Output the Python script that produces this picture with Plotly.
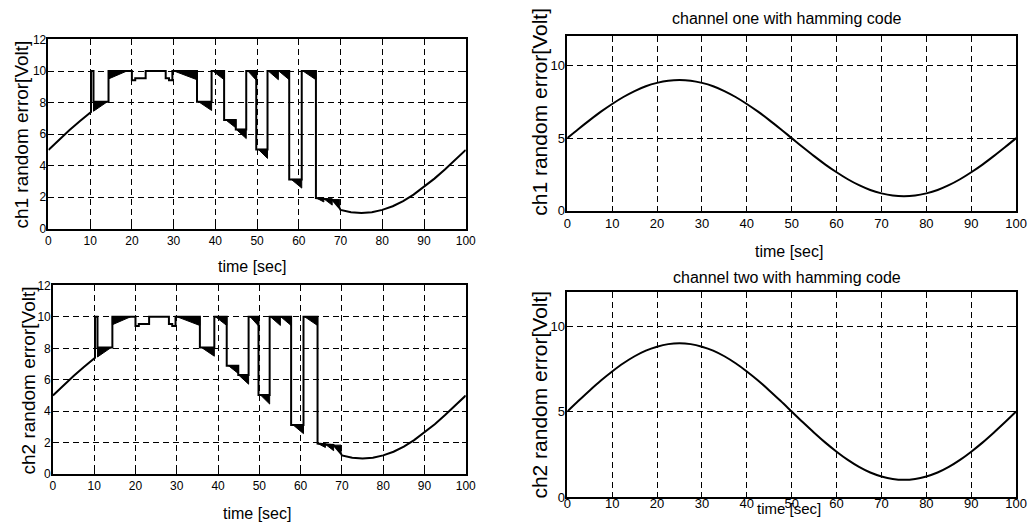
import plotly.graph_objects as go

# ---- data ----
sine_t = [0, 2.5, 5, 7.5, 10, 12.5, 15, 17.5, 20, 22.5, 25, 27.5, 30, 32.5, 35, 37.5, 40,
          42.5, 45, 47.5, 50, 52.5, 55, 57.5, 60, 62.5, 65, 67.5, 70, 72.5, 75, 77.5, 80,
          82.5, 85, 87.5, 90, 92.5, 95, 97.5, 100]
sine_v = [5.00, 5.63, 6.24, 6.82, 7.35, 7.83, 8.24, 8.57, 8.80, 8.95, 9.00, 8.95, 8.80, 8.57,
          8.24, 7.83, 7.35, 6.82, 6.24, 5.63, 5.00, 4.37, 3.76, 3.18, 2.65, 2.17, 1.76, 1.43,
          1.20, 1.05, 1.00, 1.05, 1.20, 1.43, 1.76, 2.17, 2.65, 3.18, 3.76, 4.37, 5.00]

err_t = [10.2, 10.2, 10.8, 10.8, 14.4, 14.4, 20.0, 20.0, 20.8, 20.8, 23.3, 23.3, 28.1, 28.1,
         28.9, 28.9, 29.7, 29.7, 35.6, 35.6, 39.1, 39.1, 42.1, 42.1, 44.9, 44.9, 47.4, 47.4,
         49.8, 49.8, 52.5, 52.5, 57.7, 57.7, 60.7, 60.7, 64.1, 64.1, 66.0, 68.0, 69.8]
err_v = [7.40, 10.0, 10.0, 8.05, 8.05, 10.0, 10.0, 9.42, 9.42, 9.55, 9.55, 10.0, 10.0, 9.55,
         9.55, 9.42, 9.42, 10.0, 10.0, 8.05, 8.05, 10.0, 10.0, 6.9, 6.9, 6.3, 6.3, 10.0,
         10.0, 5.03, 5.03, 10.0, 10.0, 3.13, 3.13, 10.0, 10.0, 1.95, 1.9, 1.85, 1.3]

fill_t0 = [10.8, 14.4, 30.1, 36.0, 39.4, 42.5, 45.0, 47.8, 50.3, 52.7, 55.2, 58.2, 61.0, 64.2, 66.0, 68.0]
fill_t1 = [14.1, 18.8, 35.6, 39.1, 42.1, 44.9, 47.4, 49.8, 52.5, 55.1, 57.7, 60.7, 64.1, 66.0, 68.0, 69.8]
fill_top = [8.05, 10, 10, 8.05, 10, 6.9, 6.3, 10, 5.03, 10, 10, 3.13, 10, 1.95, 1.9, 1.85]
fill_b0 = [7.45, 9.5, 10, 8.05, 10, 6.9, 6.3, 10, 5.03, 10, 10, 3.13, 10, 1.95, 1.9, 1.85]
fill_b1 = [8.05, 10, 9.45, 7.5, 9.45, 6.4, 5.72, 9.42, 4.46, 9.45, 9.45, 2.58, 9.45, 1.7, 1.5, 1.3]

x_ticks = [0, 10, 20, 30, 40, 50, 60, 70, 80, 90, 100]
y_ticks_left = [0, 2, 4, 6, 8, 10, 12]
y_ticks_right = [0, 5, 10]

# ---- build series ----
head = [(t, v) for t, v in zip(sine_t, sine_v) if t <= 10]
tail = [(t, v) for t, v in zip(sine_t, sine_v) if t >= 70]
left_t = [p[0] for p in head] + err_t + [p[0] for p in tail]
left_v = [p[1] for p in head] + err_v + [p[1] for p in tail]

poly_t, poly_v = [], []
for t0, t1, top, b0, b1 in zip(fill_t0, fill_t1, fill_top, fill_b0, fill_b1):
    poly_t += [t0, t1, t1, t0, t0, None]
    poly_v += [top, top, b1, b0, top, None]

FONT = "Liberation Sans Narrow, Arial Narrow, Liberation Sans, Arial"
W, H = 1028, 526


# layout helpers: target pixel positions -> paper fractions
def fx(px):
    return ((px - 1.5) / 0.988) / W


def fy(py):
    return 1 - ((py - 6.8) / 0.972) / H


fig = go.Figure()

# panel boxes in pixels: left, right, top, bottom
panels = [
    dict(xa="x", ya="y", box=(46, 464, 39.3, 228.7), kind="left",
         ylab="ch1 random error[Volt]", ylab_pos=(19, 134), xlab_pos=(250, 266), tstand=0),
    dict(xa="x2", ya="y2", box=(50.5, 464, 285.3, 474.3), kind="left",
         ylab="ch2 random error[Volt]", ylab_pos=(26, 380), xlab_pos=(255, 514), tstand=0),
    dict(xa="x3", ya="y3", box=(565.7, 1015.3, 36.2, 210.7), kind="right",
         ylab="ch1 random error[Volt]", ylab_pos=(538, 112), xlab_pos=(788, 251), tstand=0),
    dict(xa="x4", ya="y4", box=(565.7, 1015.3, 292, 497), kind="right",
         ylab="ch2 random error[Volt]", ylab_pos=(538, 395), xlab_pos=None, tstand=-6),
]

layout = {}
annotations = []
for p in panels:
    xa, ya = p["xa"], p["ya"]
    l, r, t, b = p["box"]
    if p["kind"] == "left":
        fig.add_trace(go.Scatter(x=poly_t, y=poly_v, xaxis=xa, yaxis=ya, mode="lines",
                                 fill="toself", fillcolor="black",
                                 line=dict(color="black", width=1), hoverinfo="skip",
                                 showlegend=False))
        fig.add_trace(go.Scatter(x=left_t, y=left_v, xaxis=xa, yaxis=ya, mode="lines",
                                 line=dict(color="black", width=2), showlegend=False))
        yt, fs, yfs = y_ticks_left, 12, 19
    else:
        fig.add_trace(go.Scatter(x=sine_t, y=sine_v, xaxis=xa, yaxis=ya, mode="lines",
                                 line=dict(color="black", width=2, shape="spline"),
                                 showlegend=False))
        yt, fs, yfs = y_ticks_right, 13, 21
    common = dict(showline=True, linecolor="black", linewidth=1.5, mirror="ticks",
                  ticks="inside", ticklen=4, tickcolor="black",
                  showgrid=True, gridcolor="black", gridwidth=1, griddash="6px,4px",
                  zeroline=False, tickfont=dict(family=FONT, size=fs, color="black"))
    layout["xaxis" + xa[1:]] = dict(domain=[fx(l), fx(r)], anchor=ya, range=[0, 100],
                                    tickvals=x_ticks, ticklabelstandoff=p["tstand"], **common)
    layout["yaxis" + ya[1:]] = dict(domain=[fy(b), fy(t)], anchor=xa, range=[0, 12],
                                    tickvals=yt, ticklabelstandoff=-2, **common)
    if p["xlab_pos"] is not None:
        annotations.append(dict(text="time [sec]", x=fx(p["xlab_pos"][0]),
                                y=fy(p["xlab_pos"][1]), xref="paper", yref="paper",
                                xanchor="center", yanchor="middle", showarrow=False,
                                font=dict(family=FONT, size=16, color="black")))
    else:
        annotations.append(dict(text="time [sec]", x=fx(788), y=0, xref="paper",
                                yref="paper", xanchor="center", yanchor="bottom",
                                showarrow=False, borderpad=0,
                                font=dict(family=FONT, size=15, color="black")))
    annotations.append(dict(text=p["ylab"], x=fx(p["ylab_pos"][0]), y=fy(p["ylab_pos"][1]),
                            xref="paper", yref="paper", xanchor="center", yanchor="middle",
                            textangle=-90, showarrow=False,
                            font=dict(family=FONT, size=yfs, color="black")))

annotations.append(dict(text="channel one with hamming code", x=fx(786), y=fy(18),
                        xref="paper", yref="paper", xanchor="center", yanchor="middle",
                        showarrow=False, font=dict(family=FONT, size=16, color="black")))
annotations.append(dict(text="channel two with hamming code", x=fx(786), y=fy(277),
                        xref="paper", yref="paper", xanchor="center", yanchor="middle",
                        showarrow=False, font=dict(family=FONT, size=16, color="black")))

fig.update_layout(**layout)
fig.update_layout(
    width=W, height=H, autosize=False, paper_bgcolor="white", plot_bgcolor="white",
    margin=dict(l=0, r=0, t=0, b=0),
    annotations=annotations,
)

post = (
    "var d=document.getElementById('{plot_id}');"
    "var h=document.documentElement, b=document.body;"
    "h.style.margin='0';h.style.padding='0';h.style.overflow='hidden';"
    "b.style.margin='0';b.style.padding='0';b.style.overflow='hidden';"
    "b.style.width='1028px';b.style.height='526px';"
    "d.style.position='fixed';d.style.left='0px';d.style.top='0px';"
)
fig.write_html("out.html", config={"responsive": False, "displayModeBar": False},
               post_script=post)
